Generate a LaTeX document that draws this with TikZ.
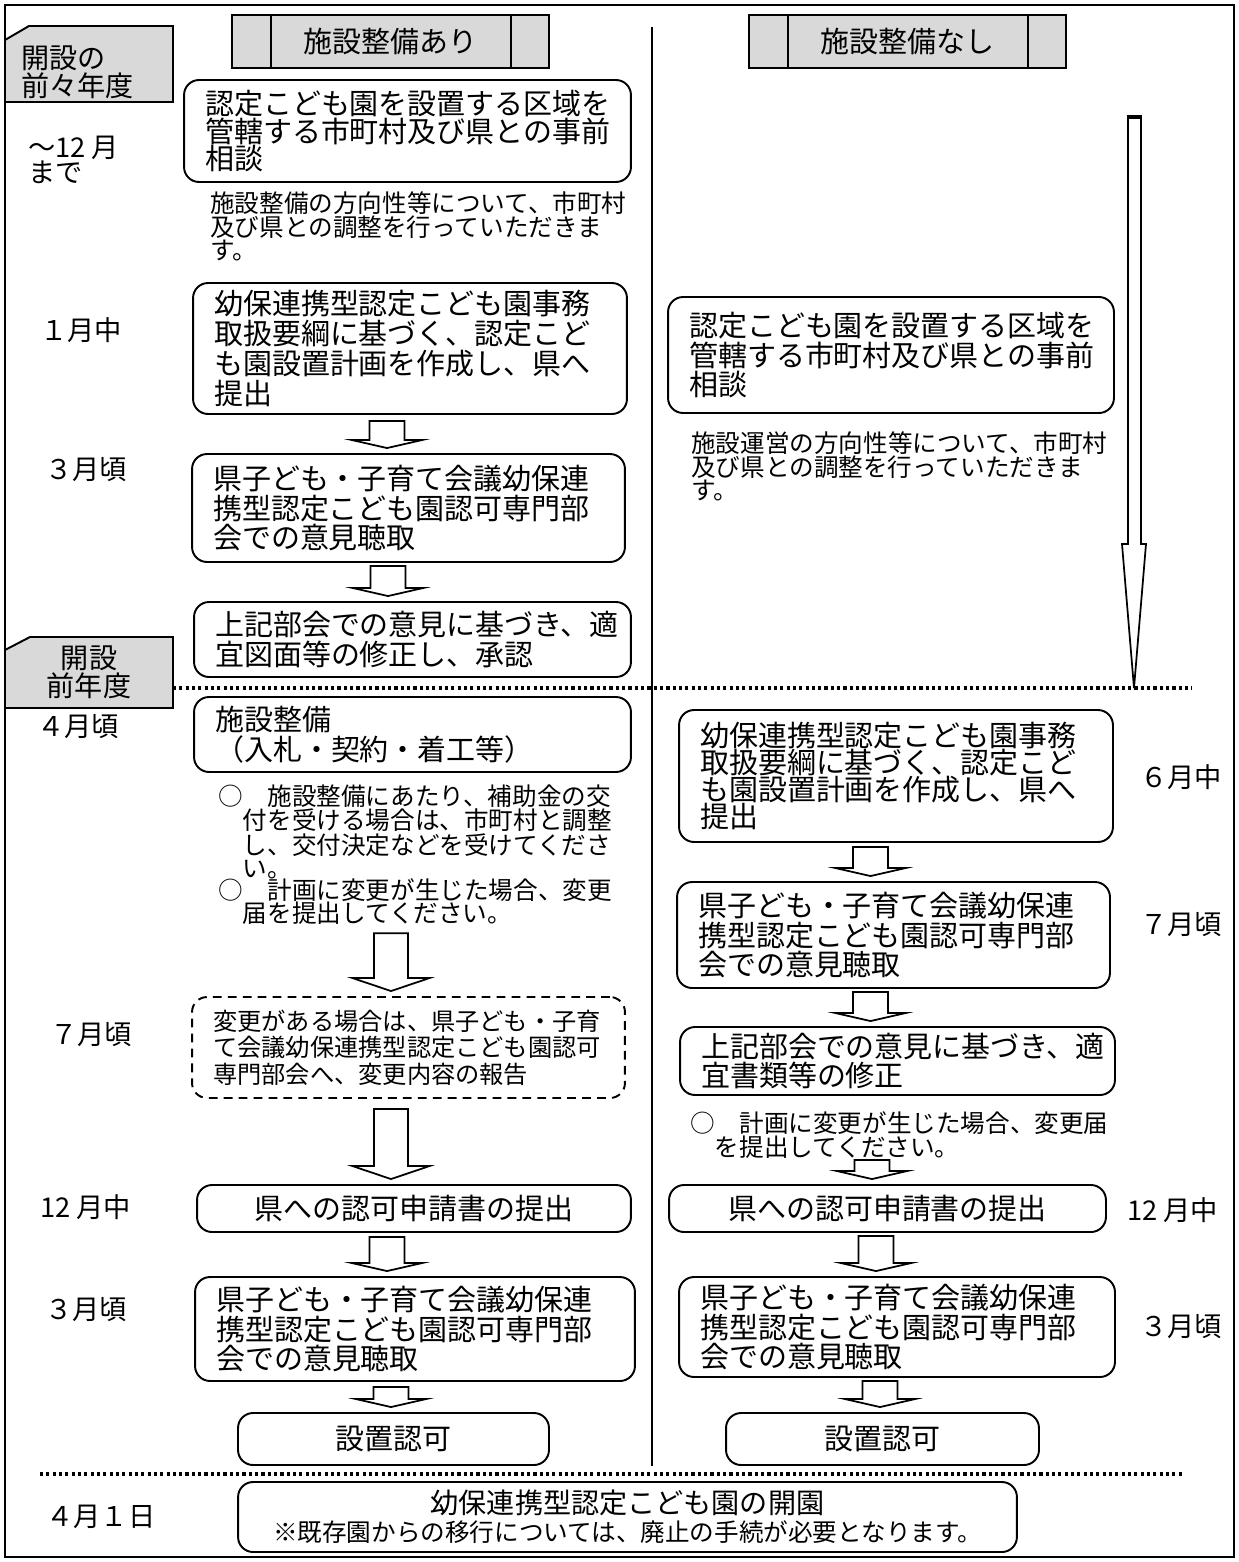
\documentclass[tikz,border=0pt]{standalone}
\usepackage{fontspec}
\setmainfont{Noto Sans CJK JP}
\usetikzlibrary{calc}
\definecolor{tabgray}{HTML}{D9D9D9}
\newcommand{\bx}{\fontsize{16.5}{17}\selectfont}
\newcommand{\nt}{\fontsize{14}{13.6}\selectfont}
\newcommand{\lb}{\fontsize{15.5}{15.5}\selectfont}
\newcommand{\ind}{\hspace*{1em}}
\newcommand{\pu}{0.56906pt}
% hollow block arrow: from, to, x shift, top gap, shaft half, head half, head length (px)
\newcommand{\hollowarrow}[7]{%
  \draw[blk] let \p1=(#1.south), \p2=(#2.north) in
    (\x2+#3*\pu-#5*\pu, \y1-#4*\pu) -- (\x2+#3*\pu-#5*\pu, \y2+5*\pu+#7*\pu)
    -- (\x2+#3*\pu-#6*\pu, \y2+5*\pu+#7*\pu) -- (\x2+#3*\pu, \y2+5*\pu)
    -- (\x2+#3*\pu+#6*\pu, \y2+5*\pu+#7*\pu) -- (\x2+#3*\pu+#5*\pu, \y2+5*\pu+#7*\pu)
    -- (\x2+#3*\pu+#5*\pu, \y1-#4*\pu) -- cycle;}

\begin{document}
\begin{tikzpicture}[x=0.02cm, y=-0.02cm,
  box/.style={draw, line width=1.1pt, rounded corners=0.3cm, align=left, inner xsep=0.42cm, inner ysep=0pt, font=\bx, text width=#1},
  cbox/.style={draw, line width=1.1pt, rounded corners=0.3cm, align=center, inner sep=0pt, font=\bx},
  note/.style={anchor=north west, align=left, inner sep=0pt, font=\nt},
  month/.style={anchor=west, align=left, inner sep=0pt, font=\lb},
  head/.style={draw, line width=1.1pt, fill=tabgray, minimum width=6.34cm, minimum height=1.06cm, font=\fontsize{16.5}{16.5}\selectfont},
  blk/.style={draw, line width=1pt, fill=white},
  dots/.style={line width=1.8pt, dash pattern=on 1.8pt off 1.8pt}]
\useasboundingbox (0,0) rectangle (1239,1562);
%tabs for the years
\draw[line width=1.1pt, fill=tabgray] (5,40) -- (29,26) -- (173,26) -- (173,102) -- (5,102);
\node[anchor=west, align=left, inner sep=0pt, font=\fontsize{16}{13.7}\selectfont] (yr1) at (21,72) {開設の\\前々年度};
\draw[line width=1.1pt, fill=tabgray] (5,650) -- (30,637) -- (173,637) -- (173,708) -- (5,708);
\node[align=center, inner sep=0pt, font=\fontsize{16}{13.7}\selectfont] (yr2) at (89,672) {開設\\前年度};
%outside frame and divider
\draw[line width=1.1pt] (5,5) rectangle (1234,1557);
\draw[line width=1pt] (652,27) -- (652,1466);
%headings
\node[head] (hdA) at (390.5,41.5) {施設整備あり};
\draw[line width=1.1pt] ([xshift=0.8cm]hdA.north west) -- ([xshift=0.8cm]hdA.south west);
\draw[line width=1.1pt] ([xshift=-0.78cm]hdA.north east) -- ([xshift=-0.78cm]hdA.south east);
\node[head] (hdB) at (907.5,41.5) {施設整備なし};
\draw[line width=1.1pt] ([xshift=0.8cm]hdB.north west) -- ([xshift=0.8cm]hdB.south west);
\draw[line width=1.1pt] ([xshift=-0.78cm]hdB.north east) -- ([xshift=-0.78cm]hdB.south east);
%dotted year borders
\draw[dots] (173,688) -- (1192,688);
\draw[dots] (40,1474) -- (1182,1474);
%months on the left
\node[month, font=\fontsize{15.5}{12}\selectfont] (m1) at (28,160) {〜12 月\\まで};
\node[month] (m2) at (40,330) {１月中};
\node[month] (m3) at (45,470) {３月頃};
\node[month] (m4) at (37,727) {４月頃};
\node[month] (m5) at (50,1035) {７月頃};
\node[month] (m6) at (40,1207) {12 月中};
\node[month] (m7) at (45,1310) {３月頃};
\node[month] (m8) at (46,1517) {４月１日};
%months on the right
\node[month] (m9) at (1140,777) {６月中};
\node[month] (m10) at (1140,925) {７月頃};
\node[month] (m11) at (1127,1210) {12 月中};
\node[month] (m12) at (1140,1327) {３月頃};
%left column: with building work
\node[box=8.10cm, minimum height=2.04cm, font=\fontsize{16.5}{15.5}\selectfont] (L1) at (407.5,131) {認定こども園を設置する区域を\\管轄する市町村及び県との事前\\相談};
\node[note] (n1) at (210,191) {施設整備の方向性等について、市町村\\及び県との調整を行っていただきま\\す。};
\node[box=7.84cm, minimum height=2.62cm] (L2) at (410,348.5) {幼保連携型認定こども園事務\\取扱要綱に基づく、認定こど\\も園設置計画を作成し、県へ\\提出};
\node[box=7.82cm, minimum height=2.16cm] (L3) at (408.5,508) {県子ども・子育て会議幼保連\\携型認定こども園認可専門部\\会での意見聴取};
\node[box=7.90cm, minimum height=1.5cm] (L4) at (412.5,639.5) {上記部会での意見に基づき、適\\宜図面等の修正し、承認};
\node[box=7.90cm, minimum height=1.5cm] (L5) at (412.5,734.5) {施設整備\\（入札・契約・着工等）};
\node[note, font=\fontsize{14}{13}\selectfont] (n2) at (218,784) {○　施設整備にあたり、補助金の交\\\ind 付を受ける場合は、市町村と調整\\\ind し、交付決定などを受けてくださ\\\ind い。\\○　計画に変更が生じた場合、変更\\\ind 届を提出してください。};
\node[box=7.82cm, minimum height=2.02cm, dash pattern=on 5pt off 3.5pt, font=\fontsize{13.8}{15}\selectfont] (L7) at (408.5,1047.5) {変更がある場合は、県子ども・子育\\て会議幼保連携型認定こども園認可\\専門部会へ、変更内容の報告};
\node[cbox, minimum width=8.68cm, minimum height=0.94cm] (L8) at (414,1208.5) {県への認可申請書の提出};
\node[box=7.96cm, minimum height=2.08cm] (L9) at (415,1329) {県子ども・子育て会議幼保連\\携型認定こども園認可専門部\\会での意見聴取};
\node[cbox, minimum width=6.22cm, minimum height=1.04cm] (L10) at (393.5,1439) {設置認可};
\hollowarrow{L2}{L3}{-21.5}{6}{17.5}{35}{8}
\hollowarrow{L3}{L4}{-24.5}{3}{17.5}{35}{8}
\hollowarrow{n2}{L7}{-17.5}{8}{17}{38.5}{13}
\hollowarrow{L7}{L8}{-23}{10}{17}{38.5}{13}
\hollowarrow{L8}{L9}{-28}{4}{17.5}{35}{8}
\hollowarrow{L9}{L10}{-2.5}{5}{17.5}{35}{8}
%right column: without building work
\draw[blk] (1128,117) -- (1128,544) -- (1122,544) -- (1134,688) -- (1146,544) -- (1141,544) -- (1141,117) -- cycle;
\fill (1127,115) rectangle (1142,119);
\node[box=8.08cm, minimum height=2.32cm] (R1) at (891,355) {認定こども園を設置する区域を\\管轄する市町村及び県との事前\\相談};
\node[note] (n3) at (691,431) {施設運営の方向性等について、市町村\\及び県との調整を行っていただきま\\す。};
\node[box=7.84cm, minimum height=2.64cm, font=\fontsize{16.5}{15.5}\selectfont] (R2) at (896,776) {幼保連携型認定こども園事務\\取扱要綱に基づく、認定こど\\も園設置計画を作成し、県へ\\提出};
\node[box=7.82cm, minimum height=2.12cm] (R3) at (893.5,935) {県子ども・子育て会議幼保連\\携型認定こども園認可専門部\\会での意見聴取};
\node[box=7.86cm, minimum height=1.36cm] (R4) at (897.5,1061) {上記部会での意見に基づき、適\\宜書類等の修正};
\node[note, font=\fontsize{14}{10.8}\selectfont] (n4) at (690,1111) {○　計画に変更が生じた場合、変更届\\\ind を提出してください。};
\node[cbox, minimum width=8.74cm, minimum height=0.94cm] (R5) at (887.5,1208.5) {県への認可申請書の提出};
\node[box=7.88cm, minimum height=2.0cm] (R6) at (897,1327) {県子ども・子育て会議幼保連\\携型認定こども園認可専門部\\会での意見聴取};
\node[cbox, minimum width=6.26cm, minimum height=1.04cm] (R7) at (882.5,1439) {設置認可};
\hollowarrow{R2}{R3}{-23}{4}{17.5}{35}{8}
\hollowarrow{R3}{R4}{-27}{3}{17.5}{35}{8}
\hollowarrow{n4}{R5}{-15.5}{1}{17.5}{35}{8}
\hollowarrow{R5}{R6}{-21}{3}{17.5}{35}{8}
\hollowarrow{R6}{R7}{-2.5}{3}{17.5}{35}{8}
%opening
\node[cbox, minimum width=15.58cm, minimum height=1.4cm, font=\fontsize{14}{16}\selectfont] (L11) at (627.5,1517) {{\fontsize{16}{16}\selectfont 幼保連携型認定こども園の開園}\\※既存園からの移行については、廃止の手続が必要となります。};
\end{tikzpicture}
\end{document}
